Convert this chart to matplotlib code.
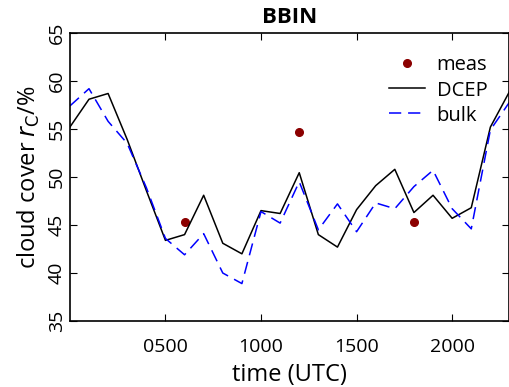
import matplotlib
matplotlib.use("Agg")
import matplotlib.pyplot as plt
import numpy as np

hours = np.arange(24)
dcep = [55.2, 58.1, 58.7, 53.9, 48.6, 43.4, 44.0, 48.1, 43.1, 42.0, 46.5, 46.2,
        50.45, 44.0, 42.7, 46.6, 49.1, 50.8, 46.3, 48.1, 45.7, 46.8, 55.2, 58.9]
bulk = [57.4, 59.2, 55.8, 53.5, 48.9, 43.6, 41.9, 44.1, 40.0, 38.9, 46.4, 45.2,
        49.5, 44.5, 47.2, 44.3, 47.3, 46.7, 49.0, 50.7, 46.7, 44.6, 54.9, 57.8]
meas_hours = [6, 12, 18]
meas_vals = [45.3, 54.7, 45.3]
xticks = [5, 10, 15, 20]
xticklabels = ["0500", "1000", "1500", "2000"]
yticks = [35, 40, 45, 50, 55, 60, 65]

plt.rcParams['font.family'] = ['Open Sans', 'DejaVu Sans']

fig = plt.figure(figsize=(5.1, 3.87), dpi=100)
ax = fig.add_axes([0.137, 0.1705, 0.862, 0.7442])

ax.plot(meas_hours, meas_vals, 'o', color='#8b0000', markersize=5.5, label='meas')
ax.plot(hours, dcep, '-', color='black', linewidth=1.1, label='DCEP')
ax.plot(hours, bulk, '--', color='blue', linewidth=1.1, dashes=(8, 4.5), label='bulk')

ax.set_xlim(0, 23)
ax.set_ylim(35, 65)
ax.set_xticks(xticks)
ax.set_xticklabels(xticklabels)
ax.set_yticks(yticks)
ax.tick_params(direction='in', top=True, right=True, length=5, labelsize=14)
ax.tick_params(axis='x', pad=12)
ax.tick_params(axis='y', pad=3)
for lab in ax.get_yticklabels():
    lab.set_rotation(90)
    lab.set_va('center')
for sp in ax.spines.values():
    sp.set_linewidth(1.2)

ax.set_xlabel('time (UTC)', fontsize=17, labelpad=5)
ax.set_ylabel(r'cloud cover $r_\mathrm{C}$/%', fontsize=17, labelpad=4)
ax.set_title('BBIN', fontsize=16, fontweight='bold', pad=7)

ax.legend(loc='upper right', bbox_to_anchor=(0.968, 0.95), frameon=False,
          fontsize=14.5, handlelength=1.75, handletextpad=0.6,
          borderaxespad=0, labelspacing=0.25, numpoints=1)

fig.savefig('out.png', dpi=100)
